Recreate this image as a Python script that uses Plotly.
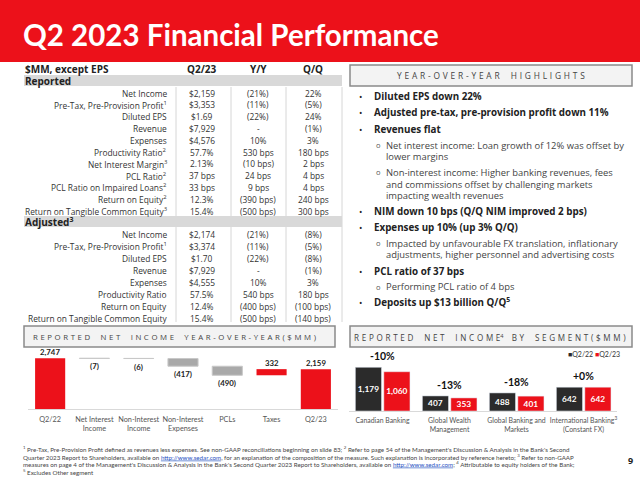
import plotly.graph_objects as go

W, H = 640, 479
FONT = "'Open Sans', Lato, sans-serif"
LATO = "Lato, 'Open Sans', sans-serif"
RED = "#ec111a"
DARK = "#2b2b2b"
GRAY_TXT = "#333333"

# ---------------- data ----------------
title_text = "Q2 2023 Financial Performance"
table_header = ["$MM, except EPS", "Q2/23", "Y/Y", "Q/Q"]

reported_labels = ["Net Income", "Pre-Tax, Pre-Provision Profit<sup>1</sup>", "Diluted EPS", "Revenue",
                   "Expenses", "Productivity Ratio<sup>2</sup>", "Net Interest Margin<sup>3</sup>",
                   "PCL Ratio<sup>2</sup>", "PCL Ratio on Impaired Loans<sup>2</sup>",
                   "Return on Equity<sup>2</sup>", "Return on Tangible Common Equity<sup>3</sup>"]
reported_q2 = ["$2,159", "$3,353", "$1.69", "$7,929", "$4,576", "57.7%", "2.13%", "37 bps", "33 bps", "12.3%", "15.4%"]
reported_yy = ["(21%)", "(11%)", "(22%)", "-", "10%", "530 bps", "(10 bps)", "24 bps", "9 bps", "(390 bps)", "(500 bps)"]
reported_qq = ["22%", "(5%)", "24%", "(1%)", "3%", "180 bps", "2 bps", "4 bps", "4 bps", "240 bps", "300 bps"]

adjusted_labels = ["Net Income", "Pre-Tax, Pre-Provision Profit<sup>1</sup>", "Diluted EPS", "Revenue",
                   "Expenses", "Productivity Ratio", "Return on Equity", "Return on Tangible Common Equity"]
adjusted_q2 = ["$2,174", "$3,374", "$1.70", "$7,929", "$4,555", "57.5%", "12.4%", "15.4%"]
adjusted_yy = ["(21%)", "(11%)", "(22%)", "-", "10%", "540 bps", "(400 bps)", "(500 bps)"]
adjusted_qq = ["(8%)", "(5%)", "(8%)", "(1%)", "3%", "180 bps", "(100 bps)", "(140 bps)"]

highlight_texts = [
    "Diluted EPS down 22%",
    "Adjusted pre-tax, pre-provision profit down 11%",
    "Revenues flat",
    "Net interest income: Loan growth of 12% was offset by",
    "lower margins",
    "Non-interest income: Higher banking revenues, fees",
    "and commissions offset by challenging markets",
    "impacting wealth revenues",
    "NIM down 10 bps (Q/Q NIM improved 2 bps)",
    "Expenses up 10% (up 3% Q/Q)",
    "Impacted by unfavourable FX translation, inflationary",
    "adjustments, higher personnel and advertising costs",
    "PCL ratio of 37 bps",
    "Performing PCL ratio of 4 bps",
    "Deposits up $13 billion Q/Q<sup>5</sup>",
]
# 1 = main bullet, 2 = sub bullet, 0 = continuation line of sub bullet
highlight_levels = [1, 1, 1, 2, 0, 2, 0, 0, 1, 1, 2, 0, 1, 2, 1]

wf_categories = ["Q2/22", "Net Interest<br>Income", "Non-Interest<br>Income", "Non-Interest<br>Expenses",
                 "PCLs", "Taxes", "Q2/23"]
wf_values = [2747, -7, -6, -417, -490, 332, 2159]
wf_measure = ["absolute", "relative", "relative", "relative", "relative", "relative", "total"]
wf_labels = ["2,747", "(7)", "(6)", "(417)", "(490)", "332", "2,159"]

seg_categories = ["Canadian Banking", "Global Wealth<br>Management", "Global Banking and<br>Markets",
                  "International Banking<sup>3</sup><br>(Constant FX)"]
seg_q2_22 = [1179, 407, 488, 642]
seg_q2_23 = [1060, 353, 401, 642]
seg_change = ["-10%", "-13%", "-18%", "+0%"]

footnotes = [
    "<sup>1</sup> Pre-Tax, Pre-Provision Profit defined as revenues less expenses. See non-GAAP reconciliations beginning on slide 83; <sup>2</sup> Refer to page 54 of the Management's Discussion & Analysis in the Bank's Second",
    "Quarter 2023 Report to Shareholders, available on <span style='color:#1f4fbf'><u>http://www.sedar.com</u></span>, for an explanation of the composition of the measure. Such explanation is incorporated by reference hereto; <sup>3</sup> Refer to non-GAAP",
    "measures on page 4 of the Management's Discussion & Analysis in the Bank's Second Quarter 2023 Report to Shareholders, available on <span style='color:#1f4fbf'><u>http://www.sedar.com</u></span>; <sup>4</sup> Attributable to equity holders of the Bank;",
    "<sup>5</sup> Excludes Other segment",
]


# ---------------- helpers ----------------
def px(x):
    return x / W


def py(y):
    return 1 - y / H


shapes = []
annotations = []


def rect(x0, y0, x1, y1, fill, line=None, lw=0):
    shapes.append(dict(type="rect", xref="paper", yref="paper", x0=px(x0), x1=px(x1), y0=py(y1), y1=py(y0),
                       fillcolor=fill, line=dict(color=line or fill, width=lw), layer="below"))


def vline(x, y0, y1, color, width=1):
    shapes.append(dict(type="line", xref="paper", yref="paper", x0=px(x), x1=px(x), y0=py(y0), y1=py(y1),
                       line=dict(color=color, width=width), layer="below"))


def text(x, y, s, size=9, color=GRAY_TXT, xanchor="left", yanchor="middle", bold=False, family=FONT):
    if bold:
        s = "<b>" + s + "</b>"
    annotations.append(dict(xref="paper", yref="paper", x=px(x), y=py(y), text=s, showarrow=False,
                            xanchor=xanchor, yanchor=yanchor, align="left" if xanchor == "left" else
                            ("right" if xanchor == "right" else "center"), borderpad=0,
                            font=dict(size=size, color=color, family=family)))


SP = "\u2004"


def spaced(s):
    return SP.join(SP * 2 if c == " " else c for c in s)


# ---------------- header ----------------
rect(0, 0, 640, 62, RED)
text(22, 35, title_text, size=29.5, color="white", bold=True, family=LATO)

# ---------------- table ----------------
COL_LABEL_R = 168
COL_X = [202, 258, 313]
TSIZE = 8.4

text(24, 69, table_header[0], size=10, color="#222", bold=True)
for cx, h in zip(COL_X, table_header[1:]):
    text(cx, 69, h, size=10, color="#222", bold=True, xanchor="center")

for x in (176, 231, 286):
    vline(x, 87, 322, "#d6d6d6")
vline(342, 87, 322, "#d6d6d6")

rect(24, 75, 342, 86, "#d9d9d9")
text(24, 80.5, "Reported", size=10, color="#222", bold=True)

for i, lab in enumerate(reported_labels):
    y = 93 + 11.8 * i
    text(COL_LABEL_R, y, lab, size=TSIZE, xanchor="right")
    for cx, col in zip(COL_X, (reported_q2, reported_yy, reported_qq)):
        text(cx, y, col[i], size=TSIZE, xanchor="center")

rect(24, 216, 342, 227, "#d9d9d9")
text(24, 221.5, "Adjusted<sup>3</sup>", size=10, color="#222", bold=True)
for i, lab in enumerate(adjusted_labels):
    y = 234 + 12 * i
    text(COL_LABEL_R, y, lab, size=TSIZE, xanchor="right")
    for cx, col in zip(COL_X, (adjusted_q2, adjusted_yy, adjusted_qq)):
        text(cx, y, col[i], size=TSIZE, xanchor="center")

# ---------------- highlights ----------------
rect(350, 65, 632, 86, "#f3f3f3", "#8a8a8a", 1.5)
text(491, 75.5, spaced("YEAR-OVER-YEAR HIGHLIGHTS"), size=8.4, color="#444", xanchor="center")

hl_y = [96.7, 112.5, 129, 145, 156.5, 172, 184, 195.5, 211.5, 227.5, 243, 255, 271, 286.5, 302]
for t, lvl, y in zip(highlight_texts, highlight_levels, hl_y):
    if lvl == 1:
        text(360, y, "•", size=9, color="#222", xanchor="center")
        text(373, y, t, size=9.8, color="#222", bold=True)
    elif lvl == 2:
        text(378, y, "o", size=7.5, color="#555", xanchor="center")
        text(385, y, t, size=9.4, color="#444")
    else:
        text(385, y, t, size=9.4, color="#444")

# ---------------- chart title boxes ----------------
rect(24, 326, 335, 347, "#f3f3f3", "#8a8a8a", 1.5)
text(32, 337, spaced("REPORTED NET INCOME YEAR-OVER-YEAR($MM)"), size=7.8, color="#444")
rect(350, 326, 632, 347, "#f3f3f3", "#8a8a8a", 1.5)
text(353, 337, spaced("REPORTED NET INCOME") + "<sup>4</sup>" + SP * 3 + spaced("BY SEGMENT($MM)"),
     size=8.1, color="#444")

# ---------------- waterfall ----------------
fig = go.Figure()
fig.add_trace(go.Waterfall(
    x=wf_categories, y=wf_values, measure=wf_measure, width=[0.68] * len(wf_values),
    increasing=dict(marker=dict(color=RED)),
    decreasing=dict(marker=dict(color="#a9a9a9", line=dict(color="#c8c8c8", width=1))),
    totals=dict(marker=dict(color=RED)),
    connector=dict(visible=False),
    xaxis="x", yaxis="y", showlegend=False, hoverinfo="skip",
))

running = 0
for cat, v, m, lab in zip(wf_categories, wf_values, wf_measure, wf_labels):
    if m == "absolute":
        start, end = 0, v
    elif m == "total":
        start, end = 0, running
    else:
        start, end = running, running + v
    running = end
    if m == "relative" and v < 0:
        annotations.append(dict(xref="x", yref="y", x=cat, y=end, yanchor="top", yshift=-1, showarrow=False,
                                text="<b>" + lab + "</b>", font=dict(size=7.8, color="#222", family=LATO)))
    else:
        annotations.append(dict(xref="x", yref="y", x=cat, y=max(start, end), yanchor="bottom", yshift=-1,
                                showarrow=False, text="<b>" + lab + "</b>",
                                font=dict(size=7.8, color="#222", family=LATO)))

# ---------------- segment bars ----------------
for vals, nm, col, off in ((seg_q2_22, "Q2/22", DARK, -0.405), (seg_q2_23, "Q2/23", RED, 0.02)):
    fig.add_trace(go.Bar(x=seg_categories, y=vals, name=nm, marker=dict(color=col),
                         width=[0.39] * len(vals), offset=[off] * len(vals),
                         texttemplate="<b>%{y:,}</b>", textposition="inside", insidetextanchor="middle",
                         textangle=0, constraintext="none",
                         textfont=dict(size=8.3, color="white", family=LATO),
                         xaxis="x2", yaxis="y2", showlegend=False, hoverinfo="skip"))

for cat, a, b, ch in zip(seg_categories, seg_q2_22, seg_q2_23, seg_change):
    annotations.append(dict(xref="x2", yref="y2", x=cat, y=max(a, b), yanchor="bottom", yshift=3, showarrow=False,
                            text="<b>" + ch + "</b>", font=dict(size=10.5, color="#111", family=LATO)))

text(621, 354, "<span style='color:%s'>■</span>Q2/22 <span style='color:%s'>■</span>Q2/23" % (DARK, RED),
     size=7, color="#333", xanchor="right", family=LATO)

# ---------------- footnotes ----------------
for i, fn in enumerate(footnotes):
    text(22, 449 + 7.6 * i, fn, size=6.2, color="#444", family=LATO)
text(630, 460, "9", size=9, color="#222", bold=True, xanchor="center")

# ---------------- layout ----------------
tickfont = dict(size=7.3, color="#555", family=LATO)
tickfont2 = dict(size=6.9, color="#555", family=LATO)
fig.update_layout(
    width=W, height=H, margin=dict(l=0, r=0, t=0, b=0),
    paper_bgcolor="white", plot_bgcolor="rgba(0,0,0,0)",
    font=dict(family=FONT),
    barmode="overlay",
    shapes=shapes, annotations=annotations,
    xaxis=dict(domain=[px(28), px(338)], showgrid=False, zeroline=False, showline=True, linecolor="#d9d9d9",
               linewidth=1, ticks="", tickangle=0, tickfont=tickfont, fixedrange=True, automargin=False,
               ticklabelstandoff=3),
    yaxis=dict(domain=[py(409), py(350)], range=[0, 3196], visible=False, fixedrange=True),
    xaxis2=dict(domain=[px(349), px(617)], anchor="y2", showgrid=False, zeroline=False, showline=True,
                linecolor="#d9d9d9", linewidth=1, ticks="", tickangle=0, tickfont=tickfont2, fixedrange=True,
                automargin=False, ticklabelstandoff=3),
    yaxis2=dict(domain=[py(411), py(350)], range=[0, 1646], visible=False, fixedrange=True),
)

fig.write_html("out.html", config={"displayModeBar": False, "staticPlot": True},
               post_script="document.body.style.margin='0';document.body.style.padding='0';"
                           "document.body.style.overflow='hidden';")
